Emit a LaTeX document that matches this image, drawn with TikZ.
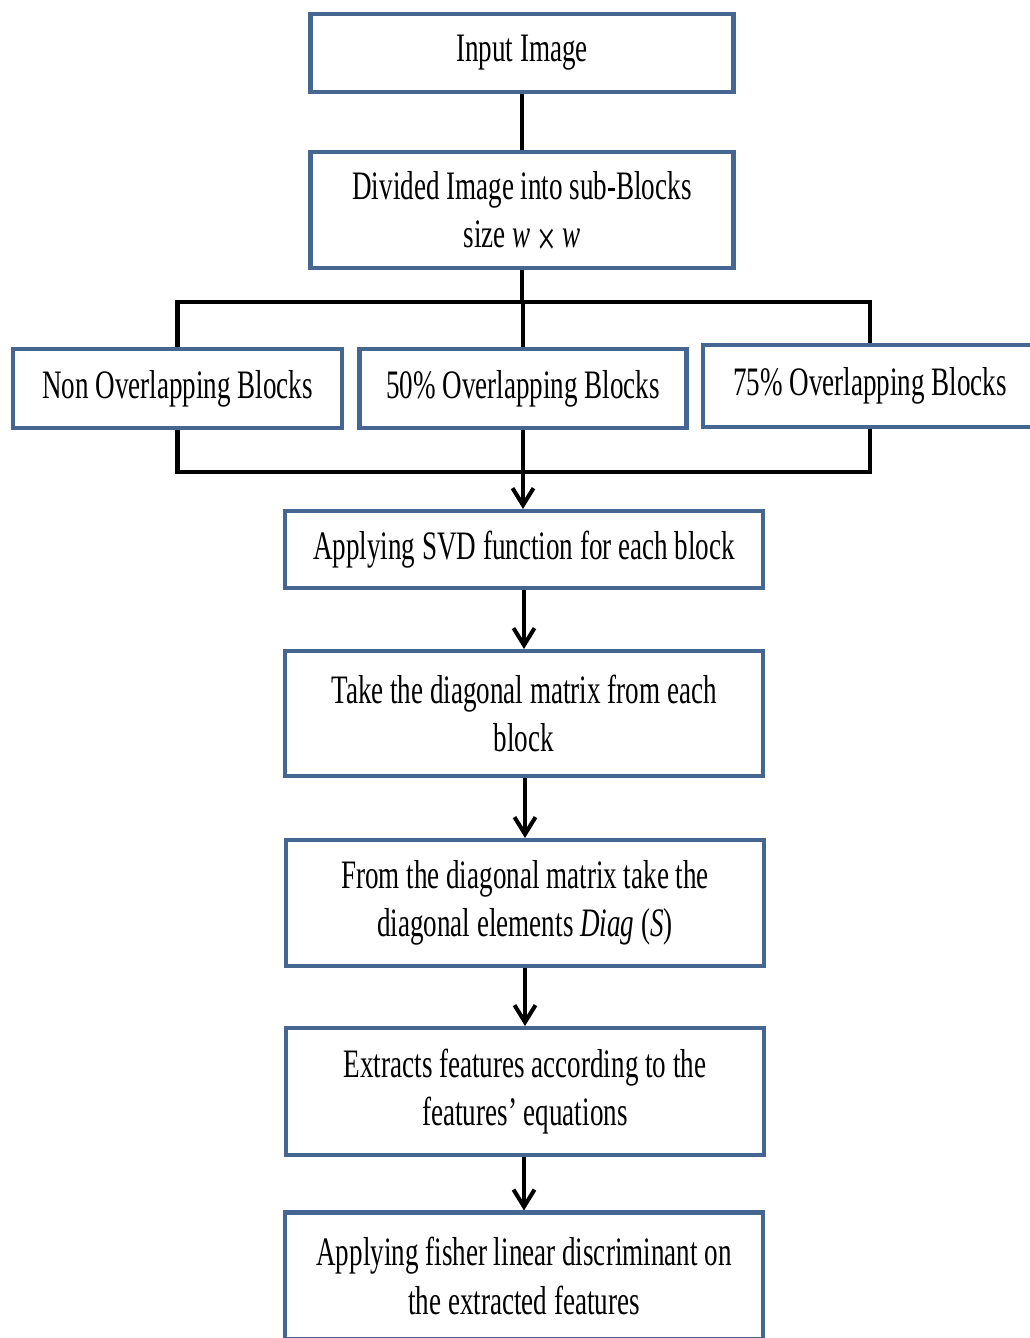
\documentclass[tikz,border=0pt]{standalone}
\usepackage{fontspec}
\usepackage{tikz}
\usetikzlibrary{arrows.meta}
\usetikzlibrary{positioning}
\newfontfamily\boxfont[FakeStretch=0.67]{Liberation Serif}
\definecolor{boxblue}{RGB}{68,102,145}
\tikzset{
    % blue framed boxes
    bluebox/.style={
        draw=boxblue,
        line width=2.3pt,
        fill=white,
        align=center,
        inner sep=0pt,
        font=\boxfont\fontsize{23}{27.5}\selectfont
    },
    blackline/.style={
        line width=2.3pt,
        black
    },
    blackarrow/.style={
        line width=2.3pt,
        black,
        ->,
        >={Straight Barb[length=0.34cm, width=0.42cm]}
    }
}
\begin{document}
\begin{tikzpicture}
    \useasboundingbox (0,0) rectangle (20.58,-26.76);

    % boxes
    \node[bluebox, minimum width=8.46cm, minimum height=1.56cm] (input) at (10.44,-1.06) {Input Image};
    \node[bluebox, minimum width=8.46cm, minimum height=2.32cm] (divided) at (10.44,-4.2)
        {Divided Image into sub-Blocks\\ size {\itshape w}\,\smash{\raisebox{-4pt}{\fontsize{28}{27.5}\selectfont ×}}\,{\itshape w}};
    \node[bluebox, minimum width=6.58cm, minimum height=1.58cm] (non) at (3.55,-7.77) {Non Overlapping Blocks};
    \node[bluebox, minimum width=6.54cm, minimum height=1.58cm] (half) at (10.46,-7.77) {50\% Overlapping Blocks};
    \node[bluebox, minimum width=6.68cm, minimum height=1.64cm] (threeq) at (17.4,-7.72) {75\% Overlapping Blocks};
    \node[bluebox, minimum width=9.56cm, minimum height=1.54cm] (svd) at (10.48,-10.99) {Applying SVD function for each block};
    \node[bluebox, minimum width=9.56cm, minimum height=2.5cm] (take) at (10.48,-14.27)
        {Take the diagonal matrix from each\\ block};
    \node[bluebox, minimum width=9.56cm, minimum height=2.52cm] (from) at (10.5,-18.06)
        {From the diagonal matrix take the\\ diagonal elements {\itshape Diag}\,({\itshape S})};
    \node[bluebox, minimum width=9.56cm, minimum height=2.54cm] (extract) at (10.5,-21.83)
        {Extracts features according to the\\ features’ equations};
    \node[bluebox, minimum width=9.56cm, minimum height=2.54cm] (fisher) at (10.48,-25.52)
        {Applying fisher linear discriminant on\\ the extracted features};

    % bus points
    \coordinate (topbus) at (10.44,-6.04);
    \coordinate (botbus) at (10.46,-9.44);

    % connectors
    \draw[blackline] (input) -- (divided);
    \draw[blackline] (divided.south) -- (divided.south |- topbus);
    \draw[blackline] (non.north) |- (topbus) -| (threeq.north);
    \draw[blackline] (half.north |- topbus) -- (half.north);
    \draw[blackline] (non.south) |- (botbus) -| (threeq.south);
    \draw[blackline] (half.south) -- (half.south |- botbus);
    \draw[blackarrow] (botbus) -- (botbus |- svd.north);
    \draw[blackarrow] (take.north |- svd.south) -- (take.north);
    \draw[blackarrow] (from.north |- take.south) -- (from.north);
    \draw[blackarrow] (extract.north |- from.south) -- (extract.north);
    \draw[blackarrow] (fisher.north |- extract.south) -- (fisher.north);
\end{tikzpicture}
\end{document}
